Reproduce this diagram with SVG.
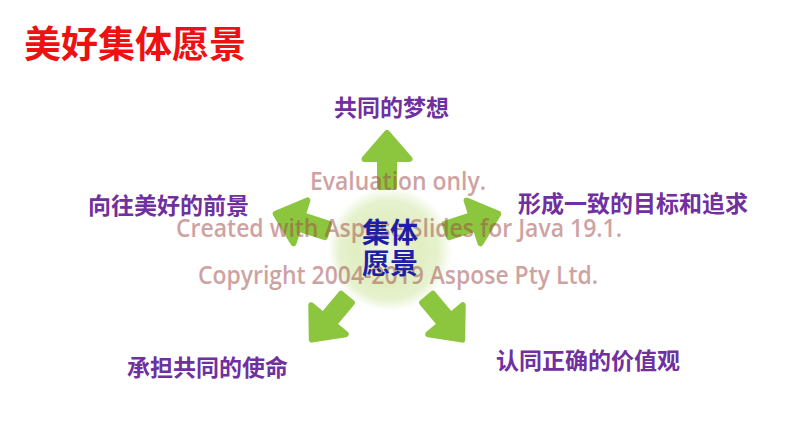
<svg xmlns="http://www.w3.org/2000/svg" width="794" height="447" viewBox="0 0 794 447">
<style>
.lbl{font-family:"Noto Sans CJK SC","Noto Sans",sans-serif;font-weight:700;font-size:23px;fill:#7030a0}
.title{font-family:"Noto Sans CJK SC","Noto Sans",sans-serif;font-weight:700;font-size:37px;fill:#ee1111}
.ctr{font-family:"Noto Sans CJK SC","Noto Sans",sans-serif;font-weight:700;font-size:28px;fill:#1f1fa6}
.wm{font-family:"Open Sans","Liberation Sans",sans-serif;font-weight:600;font-size:25px;fill:#a04848;opacity:0.5}
.arr{fill:#8cc63f;stroke:#8cc63f;stroke-width:6;stroke-linejoin:round}
</style>
<defs>
<radialGradient id="glow" cx="0.5" cy="0.5" r="0.5" fx="0.45" fy="0.55">
<stop offset="0" stop-color="#f3f8e6"/>
<stop offset="0.5" stop-color="#e0eec0"/>
<stop offset="0.8" stop-color="#e6f2cf"/>
<stop offset="1" stop-color="#ffffff"/>
</radialGradient>
<path id="arrowShape" d="M0,-117 L22.5,-91 L7,-91 L7,-63 L-7,-63 L-7,-91 L-22.5,-91 Z"/>
</defs>
<rect width="794" height="447" fill="#ffffff"/>
<text class="title" x="24" y="58">美好集体愿景</text>
<g id="center-node">
<circle cx="390" cy="249" r="62" fill="url(#glow)"/>
</g>
<g id="connectors" transform="translate(387,250)">
<use href="#arrowShape" class="arr"/>
<use href="#arrowShape" class="arr" transform="rotate(-72)"/>
<use href="#arrowShape" class="arr" transform="rotate(72)"/>
<use href="#arrowShape" class="arr" transform="rotate(-140)"/>
<use href="#arrowShape" class="arr" transform="rotate(140)"/>
</g>
<g id="node-dream"><text class="lbl" x="334" y="116">共同的梦想</text></g>
<g id="node-future"><text class="lbl" x="88" y="214">向往美好的前景</text></g>
<g id="node-goal"><text class="lbl" x="518" y="212">形成一致的目标和追求</text></g>
<g id="node-mission"><text class="lbl" x="127" y="376">承担共同的使命</text></g>
<g id="node-values"><text class="lbl" x="496" y="369">认同正确的价值观</text></g>
<g id="watermark">
<text class="wm" x="310" y="190" textLength="176" lengthAdjust="spacingAndGlyphs">Evaluation only.</text>
<text class="wm" x="176" y="237" textLength="446" lengthAdjust="spacingAndGlyphs">Created with Aspose.Slides for Java 19.1.</text>
<text class="wm" x="198" y="284" textLength="400" lengthAdjust="spacingAndGlyphs">Copyright 2004-2019 Aspose Pty Ltd.</text>
</g>
<g id="center-label">
<text class="ctr" x="390" y="243" text-anchor="middle">集体</text>
<text class="ctr" x="390" y="274" text-anchor="middle">愿景</text>
</g>
</svg>
